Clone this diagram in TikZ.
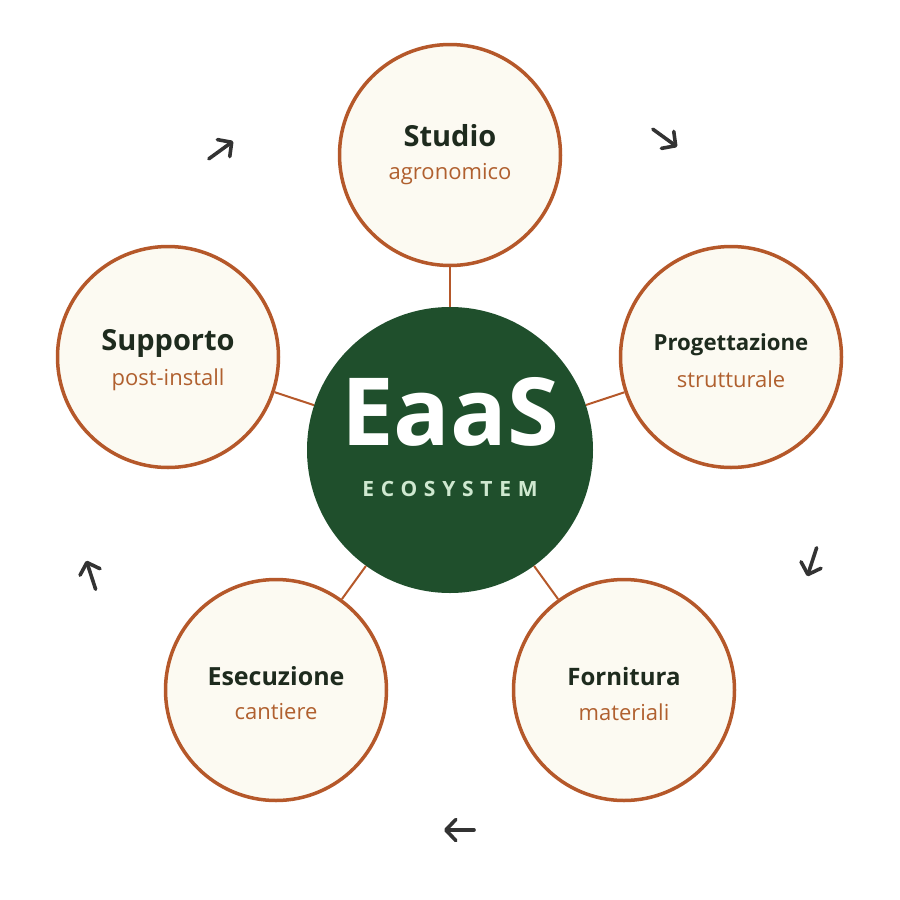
\documentclass[tikz,border=0pt]{standalone}
\usepackage{fontspec}
\setmainfont{Open Sans}
\usetikzlibrary{arrows.meta,calc}
\definecolor{rust}{HTML}{B5582A}
\definecolor{cream}{HTML}{FCFAF2}
\definecolor{forest}{HTML}{1F4F2C}
\definecolor{mint}{HTML}{CFE8D0}
\definecolor{ink}{HTML}{1E2B1E}
\definecolor{subt}{HTML}{B0602F}
\definecolor{arrowc}{HTML}{333333}
\tikzset{
  sat/.style={circle,draw=rust,line width=3.5pt,fill=cream,minimum size=221pt,inner sep=0pt},
  hub/.style={circle,fill=forest,minimum size=286pt,inner sep=0pt},
  link/.style={draw=rust,line width=2pt},
  ttl/.style={text=ink,font=\bfseries\fontsize{29}{34}\selectfont},
  sub/.style={text=subt,font=\fontsize{22}{26}\selectfont},
  flow/.style={draw=arrowc,line width=3.6pt,line cap=round,-{Straight Barb[length=10pt,width=21pt,line cap=round,line join=round]}}
}
\begin{document}
\begin{tikzpicture}[x=1pt,y=-1pt]
\useasboundingbox (0,0) rectangle (900,900);
\node[hub] (hub) at (450,450) {};
\node[sat] (s1) at (450,155) {};
\node[sat] (s2) at (731,357) {};
\node[sat] (s3) at (624,690) {};
\node[sat] (s4) at (276,690) {};
\node[sat] (s5) at (168,357) {};
\foreach \s in {s1,s2,s3,s4,s5}{\draw[link] (hub) -- (\s);}
% texts
\node[text=white,font=\bfseries\fontsize{94}{96}\selectfont] (eaas) at (450,412) {EaaS};
\node[text=mint,font=\bfseries\fontsize{21}{26}\selectfont\addfontfeatures{LetterSpace=32}] (eco) at (450,489) {ECOSYSTEM};
\node[ttl] (t1) at (450,136) {Studio};
\node[sub] (u1) at (450,174) {agronomico};
\node[ttl,font=\bfseries\fontsize{22.2}{26}\selectfont] (t2) at (731,345) {Progettazione};
\node[sub] (u2) at (731,379) {strutturale};
\node[ttl,font=\bfseries\fontsize{24}{28}\selectfont] (t3) at (624,676) {Fornitura};
\node[sub] (u3) at (624,712) {materiali};
\node[ttl,font=\bfseries\fontsize{25}{28}\selectfont] (t4) at (276,676) {Esecuzione};
\node[sub] (u4) at (276,712) {cantiere};
\node[ttl] (t5) at (168,343) {Supporto};
\node[sub] (u5) at (168,380) {post-install};
% arrows
\foreach \n/\x/\y/\a in {1/221/150/126,2/665/138/54,3/812/562/-18,4/459/830/-90,5/91/575/198}{
  \coordinate (m\n) at (\x,\y);
  \coordinate (p\n) at ($(m\n)+({-15*cos(\a-90)},{15*sin(\a-90)})$);
  \coordinate (q\n) at ($(m\n)+({15*cos(\a-90)},{-15*sin(\a-90)})$);
  \draw[flow] (p\n) -- (q\n);
}
\end{tikzpicture}
\end{document}
